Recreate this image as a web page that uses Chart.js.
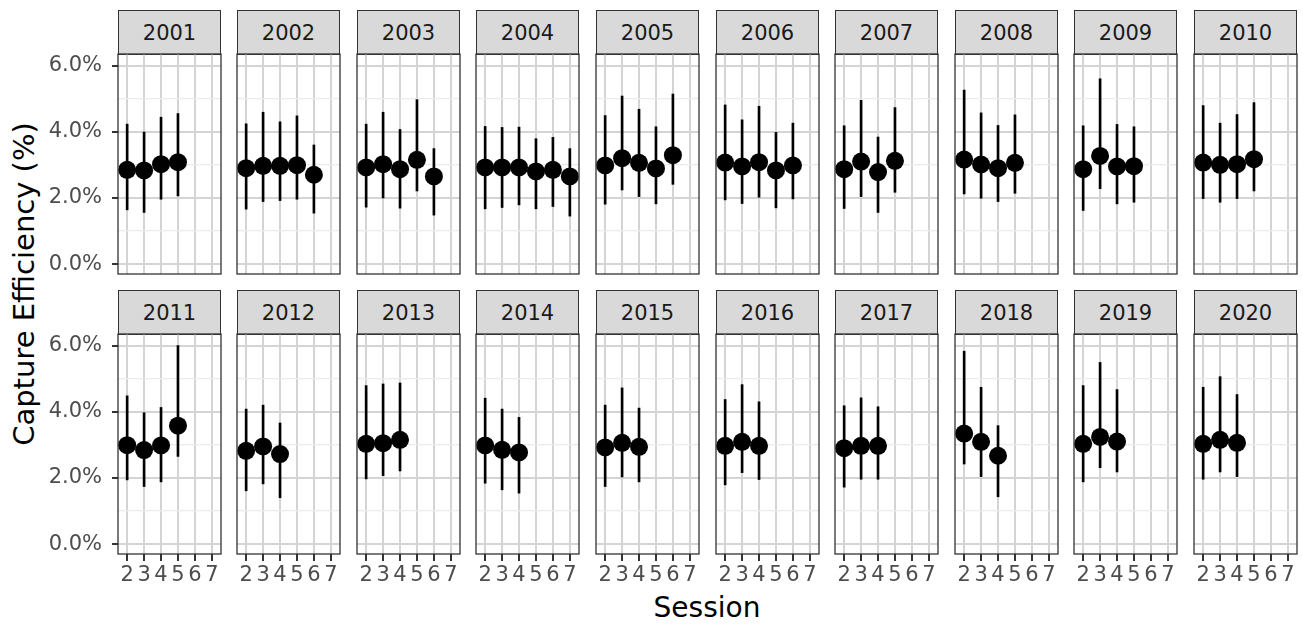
<!DOCTYPE html>
<html>
<head>
<meta charset="utf-8">
<script src="https://cdn.jsdelivr.net/npm/chart.js@4.4.1/dist/chart.umd.min.js"></script>
<style>
  body { margin: 0; background: #fff; width: 1303px; height: 625px; position: relative; overflow: hidden; font-family: "DejaVu Sans", sans-serif; }
  .box { position: absolute; }
  .strip { position: absolute; box-sizing: border-box; background: #d9d9d9; border: 1.3px solid #333; color: #1a1a1a; font-size: 21px; text-align: center; line-height: 44px; }
  .ytitle { position: absolute; left: 24px; top: 284px; transform: translate(-50%, -50%) rotate(-90deg); white-space: nowrap; font-size: 29px; color: #000; }
  .xtitle { position: absolute; left: 707px; top: 607px; transform: translate(-50%, -50%); white-space: nowrap; font-size: 28px; color: #000; }
</style>
</head>
<body>
<div class="ytitle">Capture Efficiency (%)</div>
<div class="xtitle">Session</div>
<script>
// capture efficiency (%) per year, sessions start at 2
const years = [2001, 2002, 2003, 2004, 2005, 2006, 2007, 2008, 2009, 2010,
               2011, 2012, 2013, 2014, 2015, 2016, 2017, 2018, 2019, 2020]
const sessions = [2, 3, 4, 5, 6, 7]
const yTicks = [0, 1, 2, 3, 4, 5, 6]

const estimate = [
  [2.85, 2.83, 3.02, 3.08],
  [2.90, 2.97, 2.97, 2.99, 2.70],
  [2.92, 3.02, 2.87, 3.15, 2.65],
  [2.92, 2.92, 2.92, 2.80, 2.85, 2.65],
  [2.98, 3.20, 3.06, 2.89, 3.29],
  [3.07, 2.95, 3.08, 2.83, 2.98],
  [2.87, 3.10, 2.78, 3.12],
  [3.16, 3.01, 2.90, 3.06],
  [2.87, 3.27, 2.95, 2.96],
  [3.07, 3.00, 3.02, 3.17],
  [2.99, 2.84, 2.98, 3.58],
  [2.82, 2.95, 2.72],
  [3.03, 3.05, 3.15],
  [2.98, 2.85, 2.77],
  [2.92, 3.06, 2.94],
  [2.97, 3.09, 2.97],
  [2.90, 2.97, 2.97],
  [3.34, 3.09, 2.67],
  [3.03, 3.24, 3.10],
  [3.03, 3.15, 3.06]
]
const lower = [
  [1.64, 1.56, 1.96, 2.06],
  [1.66, 1.89, 1.92, 1.96, 1.54],
  [1.72, 2.00, 1.69, 2.21, 1.48],
  [1.67, 1.71, 1.79, 1.67, 1.74, 1.45],
  [1.81, 2.24, 2.04, 1.82, 2.41],
  [1.94, 1.83, 2.02, 1.70, 1.97],
  [1.68, 2.04, 1.56, 2.17],
  [2.12, 1.99, 1.89, 2.14],
  [1.62, 2.28, 1.82, 1.87],
  [1.98, 1.87, 1.98, 2.21],
  [1.94, 1.74, 1.88, 2.65],
  [1.61, 1.82, 1.40],
  [1.97, 2.07, 2.21],
  [1.84, 1.64, 1.54],
  [1.74, 2.03, 1.88],
  [1.79, 2.16, 1.95],
  [1.72, 1.96, 1.96],
  [2.42, 2.04, 1.43],
  [1.88, 2.31, 2.18],
  [1.96, 2.18, 2.04]
]
const upper = [
  [4.23, 3.99, 4.44, 4.55],
  [4.24, 4.59, 4.30, 4.48, 3.60],
  [4.23, 4.59, 4.07, 4.97, 3.49],
  [4.16, 4.13, 4.14, 3.79, 3.83, 3.49],
  [4.49, 5.08, 4.68, 4.15, 5.14],
  [4.81, 4.36, 4.77, 3.98, 4.26],
  [4.18, 4.95, 3.84, 4.73],
  [5.26, 4.57, 4.19, 4.51],
  [4.18, 5.60, 4.22, 4.15],
  [4.79, 4.26, 4.52, 4.88],
  [4.48, 3.97, 4.13, 6.00],
  [4.08, 4.20, 3.66],
  [4.79, 4.84, 4.87],
  [4.41, 4.08, 3.83],
  [4.20, 4.72, 4.11],
  [4.37, 4.82, 4.30],
  [4.18, 4.42, 4.15],
  [5.83, 4.74, 3.58],
  [4.79, 5.49, 4.67],
  [4.74, 5.06, 4.52]
]

const M = 30
const panelW = 103, panelH = 220
const font = { family: 'DejaVu Sans', size: 21 }

// panel border drawn over the data, like theme_bw
const frame = {
  id: 'frame',
  afterDraw(chart) {
    const { ctx, chartArea: a } = chart
    ctx.save()
    ctx.strokeStyle = '#333'
    ctx.lineWidth = 1.3
    ctx.strokeRect(a.left, a.top, a.width, a.height)
    ctx.restore()
  }
}

years.forEach((yr, i) => {
  const col = i % 10, row = Math.floor(i / 10)
  const pl = Math.round(117.5 + col * 119.6)
  const pt = row ? 334 : 54
  const yW = col === 0 ? 80 : 0
  const xH = row === 1 ? 42 : 0

  const strip = document.createElement('div')
  strip.className = 'strip'
  strip.textContent = yr
  strip.style.left = pl + 'px'
  strip.style.top = (pt - 44) + 'px'
  strip.style.width = panelW + 'px'
  strip.style.height = '45px'
  document.body.appendChild(strip)

  const box = document.createElement('div')
  box.className = 'box'
  const w = panelW + 2 * M + yW, h = panelH + 2 * M + xH
  box.style.left = (pl - M - yW) + 'px'
  box.style.top = (pt - M) + 'px'
  const c = document.createElement('canvas')
  c.width = w; c.height = h
  c.style.width = w + 'px'; c.style.height = h + 'px'
  box.appendChild(c)
  document.body.appendChild(box)

  const pts = estimate[i].map((v, k) => ({ x: sessions[k], y: v }))
  const bars = estimate[i].map((v, k) => ({ x: sessions[k], y: [lower[i][k], upper[i][k]] }))

  new Chart(c, {
    type: 'scatter',
    data: {
      datasets: [
        { type: 'scatter', data: pts, pointRadius: 9, pointHoverRadius: 9, backgroundColor: '#000', borderWidth: 0, order: 0, clip: false },
        { type: 'bar', data: bars, backgroundColor: '#000', barThickness: 2, grouped: false, order: 1, clip: false }
      ]
    },
    options: {
      responsive: false,
      animation: false,
      events: [],
      layout: { padding: M },
      plugins: { legend: { display: false }, tooltip: { enabled: false } },
      scales: {
        x: {
          type: 'linear', min: 1.46, max: 7.54, offset: false,
          afterBuildTicks: s => { s.ticks = sessions.map(v => ({ value: v })) },
          afterFit: s => { s.height = xH },
          border: { display: false },
          grid: { color: '#d4d4d4', lineWidth: 2, offset: false, drawTicks: row === 1, tickLength: 7, tickColor: '#333', tickWidth: 2 },
          ticks: { display: row === 1, color: '#4d4d4d', font, padding: 2, maxRotation: 0, autoSkip: false }
        },
        y: {
          type: 'linear', min: -0.3, max: 6.35,
          afterBuildTicks: s => { s.ticks = yTicks.map(v => ({ value: v })) },
          afterFit: s => { s.width = yW },
          border: { display: false },
          grid: {
            color: g => g.tick.value % 2 ? '#ebebeb' : '#d4d4d4',
            lineWidth: g => g.tick.value % 2 ? 1.2 : 2,
            drawTicks: col === 0, tickLength: 6, tickWidth: 2,
            tickColor: g => g.tick.value % 2 ? 'rgba(0,0,0,0)' : '#333'
          },
          ticks: { display: col === 0, color: '#4d4d4d', font, padding: 10, callback: v => v % 2 ? '' : v.toFixed(1) + '%' }
        }
      }
    },
    plugins: [frame]
  })
})
</script>
</body>
</html>
